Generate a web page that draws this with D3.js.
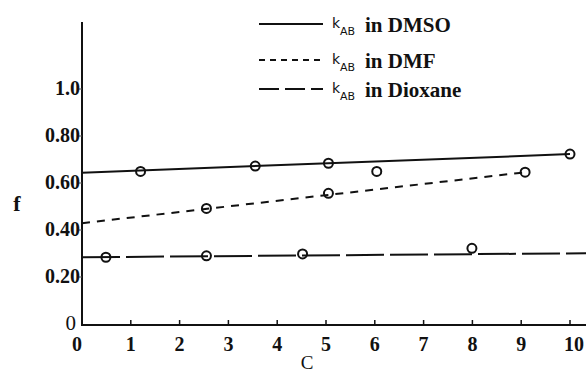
<!DOCTYPE html>
<html>
<head>
<meta charset="utf-8">
<script src="https://cdn.jsdelivr.net/npm/d3@7"></script>
<style>
  body { margin: 0; background: #fff; }
  svg { display: block; }
</style>
</head>
<body>
<svg id="svg" width="586" height="373"></svg>
<script>
// values
const xTicks = [0, 1, 2, 3, 4, 5, 6, 7, 8, 9, 10]
const yTicks = [0, 0.2, 0.4, 0.6, 0.8, 1.0]
const yTickLabels = ["0", "0.20", "0.40", "0.60", "0.80", "1.0"]

const dmsoC = [1.2, 3.55, 5.05, 6.04, 10]
const dmsoF = [0.649, 0.672, 0.684, 0.649, 0.723]
const dmsoFit = [[0, 0.644], [10, 0.723]]

const dmfC = [2.55, 5.05, 9.08]
const dmfF = [0.492, 0.556, 0.646]
const dmfFit = [[0, 0.429], [9.1, 0.646]]

const dioxC = [0.49, 2.55, 4.52, 7.99]
const dioxF = [0.284, 0.29, 0.298, 0.322]
const dioxFit = [[0, 0.284], [10.33, 0.301]]

const series = [
  {name: "DMSO", c: dmsoC, f: dmsoF, fit: dmsoFit, dash: null, legendDash: null},
  {name: "DMF", c: dmfC, f: dmfF, fit: dmfFit, dash: "8,7", legendDash: "6,5"},
  {name: "Dioxane", c: dioxC, f: dioxF, fit: dioxFit, dash: "38,6", legendDash: "20,6"}
]

const serif = "'Times New Roman', 'Liberation Serif', serif"
const sans = "'DejaVu Sans', 'Liberation Sans', sans-serif"

const svg = d3.select("#svg")

const x = d3.scaleLinear().domain([0, 10]).range([82, 570])
const y = d3.scaleLinear().domain([0, 1]).range([324, 89])

// axes
svg.append("line")
  .attr("x1", x(0)).attr("x2", 586)
  .attr("y1", 325).attr("y2", 325)
  .attr("stroke", "#111").attr("stroke-width", 2)
svg.append("line")
  .attr("x1", x(0)).attr("x2", x(0))
  .attr("y1", 22).attr("y2", 326)
  .attr("stroke", "#111").attr("stroke-width", 2)

// x ticks point up into the plot
svg.append("g").selectAll("line")
  .data(xTicks.slice(1))
  .enter().append("line")
  .attr("x1", d => x(d)).attr("x2", d => x(d))
  .attr("y1", 325).attr("y2", 320)
  .attr("stroke", "#111").attr("stroke-width", 1.5)

svg.append("g").selectAll("text")
  .data(xTicks)
  .enter().append("text")
  .attr("x", d => d === 0 ? x(d) - 5 : x(d) + (d === 10 ? 4 : 0))
  .attr("y", 351)
  .attr("text-anchor", "middle")
  .style("font-family", serif)
  .style("font-size", "20px")
  .style("font-weight", "bold")
  .attr("fill", "#111")
  .text(d => d)

// y ticks: tiny marks left of the axis
svg.append("g").selectAll("line")
  .data(yTicks.slice(1))
  .enter().append("line")
  .attr("x1", x(0) - 3).attr("x2", x(0))
  .attr("y1", d => y(d)).attr("y2", d => y(d))
  .attr("stroke", "#555").attr("stroke-width", 1)

svg.append("g").selectAll("text")
  .data(yTicks)
  .enter().append("text")
  .attr("x", (d, i) => i === 0 ? 76 : 80)
  .attr("y", d => y(d) + 6)
  .attr("text-anchor", "end")
  .style("font-family", serif)
  .style("font-size", d => d === 0 ? "21px" : "20px")
  .style("font-weight", d => d === 0 ? "normal" : "bold")
  .attr("fill", "#111")
  .text((d, i) => yTickLabels[i])

// axis titles
svg.append("text").attr("x", 17).attr("y", 211)
  .attr("text-anchor", "middle")
  .style("font-family", serif).style("font-size", "22px").style("font-weight", "bold")
  .attr("fill", "#111")
  .text("f")
svg.append("text").attr("x", 307).attr("y", 369)
  .attr("text-anchor", "middle")
  .style("font-family", serif).style("font-size", "19px")
  .attr("fill", "#111")
  .text("C")

// fitted lines
const line = d3.line().x(d => x(d[0])).y(d => y(d[1]))
svg.append("g").selectAll("path")
  .data(series)
  .enter().append("path")
  .attr("d", d => line(d.fit))
  .attr("fill", "none")
  .attr("stroke", "#111")
  .attr("stroke-width", 2)
  .attr("stroke-dasharray", d => d.dash)

// markers
series.forEach(s => {
  svg.append("g").selectAll("circle")
    .data(s.c.map((c, i) => [c, s.f[i]]))
    .enter().append("circle")
    .attr("cx", d => x(d[0]))
    .attr("cy", d => y(d[1]))
    .attr("r", 4.5)
    .attr("fill", "none")
    .attr("stroke", "#111")
    .attr("stroke-width", 2)
})

// legend
const legendY = [24, 60, 89]
const legend = svg.append("g").selectAll("g")
  .data(series)
  .enter().append("g")
  .attr("transform", (d, i) => "translate(0," + legendY[i] + ")")

legend.append("line")
  .attr("x1", 259).attr("x2", 323)
  .attr("y1", 0).attr("y2", 0)
  .attr("stroke", "#111").attr("stroke-width", 2)
  .attr("stroke-dasharray", d => d.legendDash)

legend.append("text")
  .attr("x", 332).attr("y", 4)
  .style("font-family", sans)
  .style("font-size", "14px")
  .attr("fill", "#111")
  .text("k")
legend.append("text")
  .attr("x", 340).attr("y", 11)
  .style("font-family", sans)
  .style("font-size", "11px")
  .attr("fill", "#111")
  .text("AB")
legend.append("text")
  .attr("x", 365).attr("y", 8)
  .style("font-family", serif)
  .style("font-size", "21px")
  .style("font-weight", "bold")
  .attr("fill", "#111")
  .text(d => "in " + d.name)
</script>
</body>
</html>
